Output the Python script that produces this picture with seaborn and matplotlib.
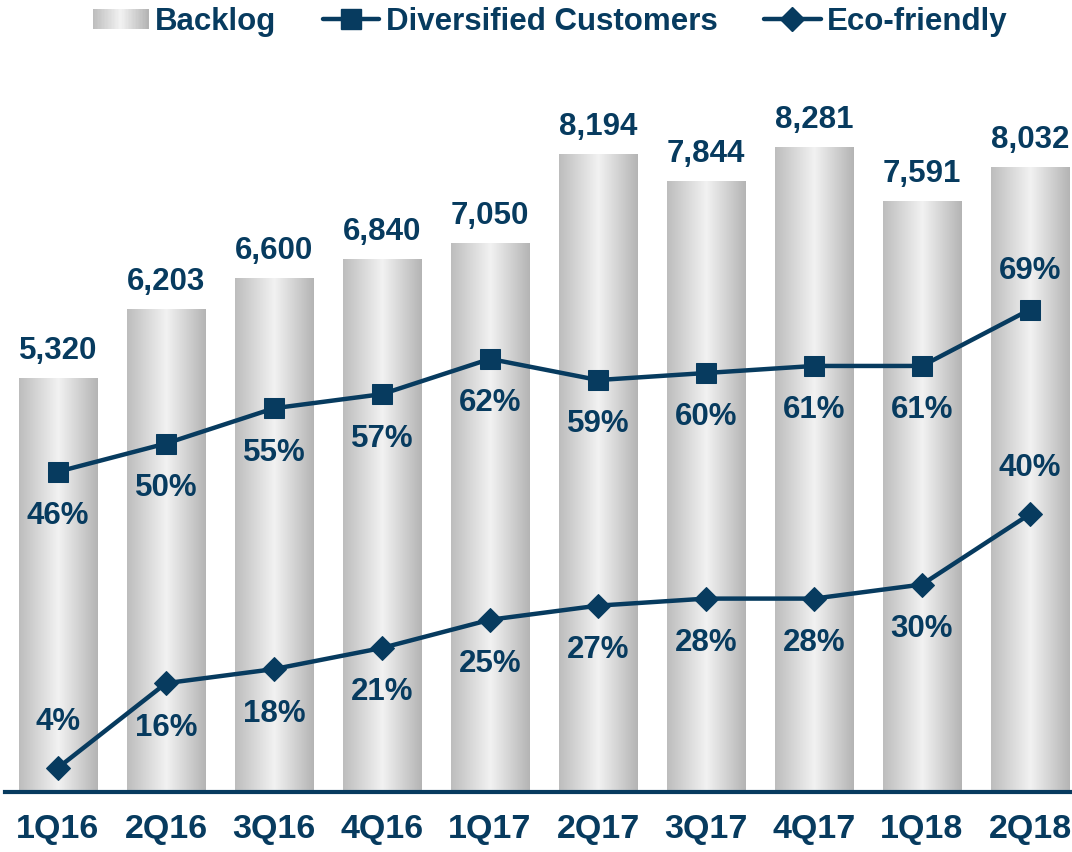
import numpy as np
import matplotlib
matplotlib.use("Agg")
import matplotlib.pyplot as plt
import seaborn as sns
from matplotlib.colors import LinearSegmentedColormap
from matplotlib.patches import Rectangle
from matplotlib.lines import Line2D
from matplotlib.legend_handler import HandlerBase

quarters = ["1Q16", "2Q16", "3Q16", "4Q16", "1Q17", "2Q17", "3Q17", "4Q17", "1Q18", "2Q18"]
backlog = [5320, 6203, 6600, 6840, 7050, 8194, 7844, 8281, 7591, 8032]
diversified = [46, 50, 55, 57, 62, 59, 60, 61, 61, 69]
eco = [4, 16, 18, 21, 25, 27, 28, 28, 30, 40]

# label above (True) or below (False) the point
div_above = [False] * 9 + [True]
eco_above = [True] + [False] * 8 + [True]

navy = "#073b5f"
grad = LinearSegmentedColormap.from_list("cyl", ["#bdbdbd", "#f2f2f2", "#b4b4b4"])
grad_vals = np.linspace(0, 1, 256).reshape(1, -1)

sns.set_style("white")
plt.rcParams["font.family"] = ["Liberation Sans", "DejaVu Sans"]
plt.rcParams["font.weight"] = "bold"

fig = plt.figure(figsize=(10.72, 8.52), dpi=100)
ax = fig.add_axes([5 / 1072, 60 / 852, 1067 / 1072, 792 / 852])

sns.barplot(x=quarters, y=backlog, ax=ax, width=0.73, color="#d9d9d9", zorder=1)

# replace flat bars with a cylinder-like horizontal gradient
for p in ax.patches:
    x0, y0 = p.get_x(), p.get_y()
    w, h = p.get_width(), p.get_height()
    ax.imshow(grad_vals, cmap=grad, aspect="auto", extent=[x0, x0 + w, y0, y0 + h],
              zorder=1, interpolation="bicubic")
    p.set_visible(False)

ax.set_xlim(-53 / 108, (1072 - 58) / 108)
ax.set_ylim(0, 792 / 0.0778)

for i, v in enumerate(backlog):
    ax.annotate(f"{v:,}", (i, v), xytext=(0, 9), textcoords="offset points",
                ha="center", va="bottom", fontsize=22.5, fontweight="bold", color=navy)

for s in ["top", "left", "right"]:
    ax.spines[s].set_visible(False)
ax.spines["bottom"].set_color(navy)
ax.spines["bottom"].set_linewidth(3)
ax.set_yticks([])
ax.tick_params(axis="x", length=0, pad=16, labelsize=24.5, labelcolor=navy)
for t in ax.get_xticklabels():
    t.set_fontweight("bold")

ax2 = ax.twinx()
ax2.set_ylim(4 / 7.05, 792 / 7.05 + 4 / 7.05)
ax2.set_yticks([])
for s in ax2.spines.values():
    s.set_visible(False)

xs = np.arange(len(quarters))
sns.lineplot(x=xs, y=diversified, ax=ax2, color=navy, linewidth=3.2, marker="s",
             markersize=14, markeredgecolor=navy, zorder=3)
sns.lineplot(x=xs, y=eco, ax=ax2, color=navy, linewidth=3.2, marker="D",
             markersize=12, markeredgecolor=navy, zorder=3)

for i, v in enumerate(diversified):
    off = 28 if div_above[i] else -32
    ax2.annotate(f"{v}%", (i, v), xytext=(0, off), textcoords="offset points",
                 ha="center", va="center", fontsize=22.5, fontweight="bold", color=navy)
for i, v in enumerate(eco):
    off = 33 if eco_above[i] else -32
    ax2.annotate(f"{v}%", (i, v), xytext=(0, off), textcoords="offset points",
                 ha="center", va="center", fontsize=22.5, fontweight="bold", color=navy)


class GradientHandler(HandlerBase):
    def create_artists(self, legend, orig_handle, xdescent, ydescent, width, height,
                       fontsize, trans):
        arts = []
        n = 40
        for k in range(n):
            c = grad(k / (n - 1))
            r = Rectangle((-xdescent + width * k / n, -ydescent + height * 0.05),
                          width / n + 0.3, height * 0.9, facecolor=c, edgecolor="none",
                          transform=trans)
            arts.append(r)
        return arts


h_bar = Rectangle((0, 0), 1, 1)
h_div = Line2D([], [], color=navy, lw=3.2, marker="s", markersize=14)
h_eco = Line2D([], [], color=navy, lw=3.2, marker="D", markersize=12)
leg = fig.legend([h_bar, h_div, h_eco], ["Backlog", "Diversified Customers", "Eco-friendly"],
                 loc="center", bbox_to_anchor=(550 / 1072, 1 - 22 / 852), ncol=3,
                 frameon=False, fontsize=22.5, handlelength=1.8, handletextpad=0.2,
                 columnspacing=1.5, handler_map={Rectangle: GradientHandler()},
                 prop={"weight": "bold", "size": 22.5})
for t in leg.get_texts():
    t.set_color(navy)

fig.savefig("out.png", dpi=100)
